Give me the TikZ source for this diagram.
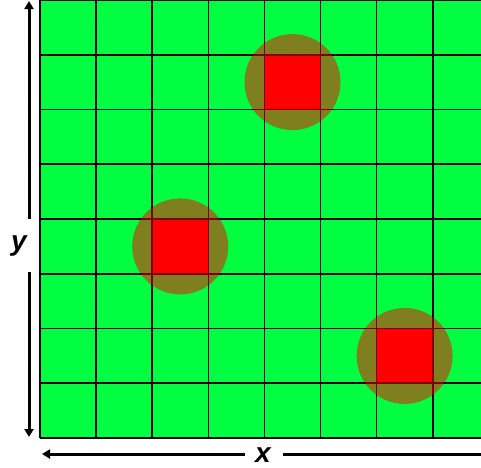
\documentclass[tikz,border=0pt]{standalone}
\usepackage{fontspec}
\setmainfont{Liberation Sans}
\usepackage{xcolor}
\usetikzlibrary{arrows.meta}
\definecolor{fieldgreen}{RGB}{0, 255, 64}
\definecolor{hotred}{RGB}{255, 0, 0}

\tikzset{
    axis/.style={black, line width=3pt},
    axistip/.style={-{Triangle[length=8pt,width=9pt]}},
    axislabel/.style={anchor=base, font=\bfseries\itshape\fontsize{28}{28}\selectfont}
}

\begin{document}
\begin{tikzpicture}[x=1pt, y=-1pt]
    \useasboundingbox (0,0) rectangle (481,467);

    % Field
    \fill[fieldgreen] (40,0) rectangle (481,438);

    % Hot cells
    \fill[hotred] (264.4,54.75) rectangle (320.5,109.5);
    \fill[hotred] (152.2,219) rectangle (208.3,273.75);
    \fill[hotred] (376.6,328.5) rectangle (432.7,383.25);

    % Grid
    \foreach \i in {0,...,7}
        \draw[black, line width=1.6pt] ({40+56.1*\i},0) -- ({40+56.1*\i},438);
    \foreach \j in {0,...,8}
        \draw[black, line width=1.6pt] (40,{54.75*\j}) -- (481,{54.75*\j});

    % Halos
    \fill[hotred, opacity=0.5] (292.5,82.1) circle (48pt);
    \fill[hotred, opacity=0.5] (180.2,246.4) circle (48pt);
    \fill[hotred, opacity=0.5] (404.6,355.9) circle (48pt);

    % Axes
    \coordinate (ytop) at (29,1);
    \coordinate (ygaptop) at (29,219);
    \coordinate (ygapbot) at (29,272);
    \coordinate (ybot) at (29,437);
    \coordinate (xleft) at (42,454);
    \coordinate (xgapleft) at (245,454);
    \coordinate (xgapright) at (283,454);
    \coordinate (xright) at (481,454);

    \draw[axis, axistip] (ygaptop) -- (ytop);
    \draw[axis, axistip] (ygapbot) -- (ybot);
    \draw[axis, axistip] (xgapleft) -- (xleft);
    \draw[axis] (xgapright) -- (xright);

    % Labels
    \node[axislabel] (ylabel) at (19,250) {y};
    \node[axislabel] (xlabel) at (263,462) {x};
\end{tikzpicture}
\end{document}
